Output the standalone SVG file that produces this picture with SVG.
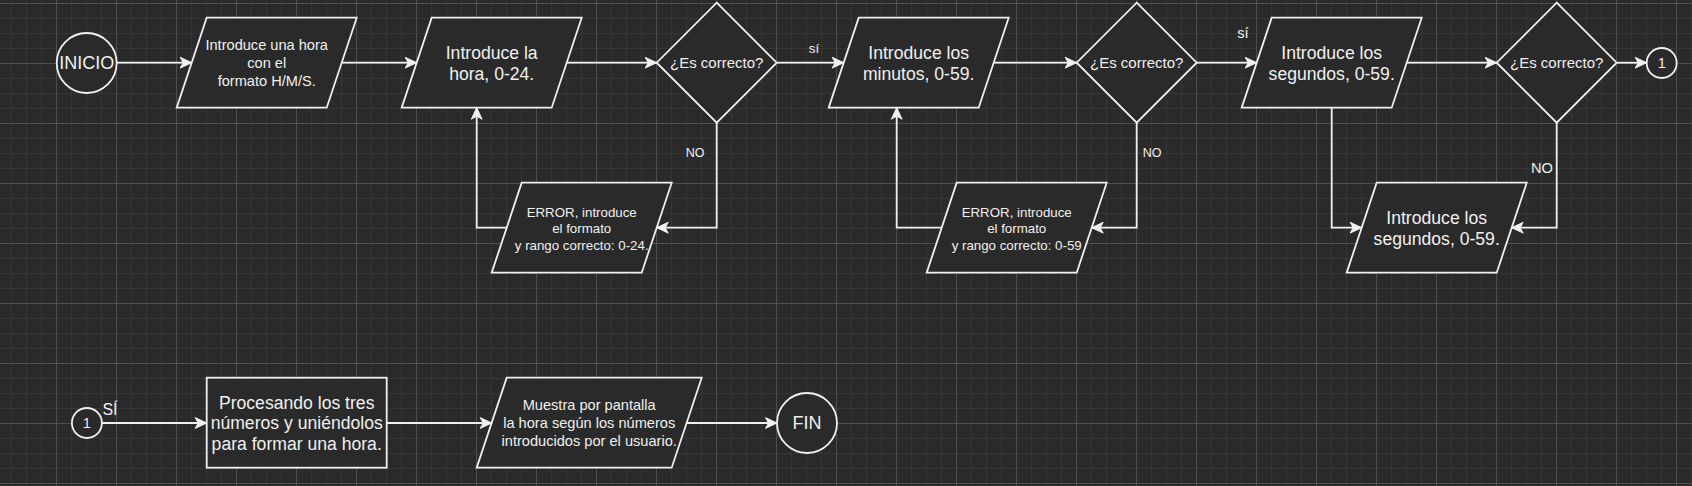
<svg xmlns="http://www.w3.org/2000/svg" width="1692" height="486" viewBox="0 0 1692 486">
<defs>
<pattern id="gMinor" patternUnits="userSpaceOnUse" x="11" y="3" width="15" height="15">
<path d="M0.5 0V15M0 0.5H15" stroke="#363636" stroke-width="1" fill="none"/>
</pattern>
<pattern id="gMajor" patternUnits="userSpaceOnUse" x="56" y="3" width="60" height="60">
<path d="M0.5 0V60M0 0.5H60" stroke="#4e4e4e" stroke-width="1" fill="none"/>
</pattern>
<marker id="arr" markerUnits="userSpaceOnUse" markerWidth="14" markerHeight="14" viewBox="-13 -7 14 14" refX="0" refY="0" orient="auto">
<path d="M0,0 L-11.5,-5.4 L-8.5,0 L-11.5,5.4 Z" fill="#f0f0f0" stroke="#f0f0f0" stroke-width="1"/>
</marker>
<style>
.n{fill:#2a2a2a;stroke:#f0f0f0;stroke-width:1.8}
.e{fill:none;stroke:#f0f0f0;stroke-width:1.8;marker-end:url(#arr)}
text{font-family:"Liberation Sans",Arial,sans-serif;fill:#f0f0f0;text-anchor:middle;dominant-baseline:central}
.s{font-size:14.6px}
.l{font-size:17.6px}
.x{font-size:13.3px}
.t{font-size:18px}
.d{font-size:15px}
.lb{font-size:12.5px}
</style>
</defs>
<rect x="0" y="0" width="1692" height="486" fill="#2a2a2a"/>
<rect x="0" y="0" width="1692" height="486" fill="url(#gMinor)"/>
<rect x="0" y="0" width="1692" height="486" fill="url(#gMajor)"/>

<g id="connectors">
<path class="e" d="M116.7,62.7 H191.7"/>
<path class="e" d="M341.7,62.7 H416.7"/>
<path class="e" d="M566.7,62.7 H656.7"/>
<path class="e" d="M776.7,62.7 H843.7"/>
<path class="e" d="M716.7,122.7 V227.7 H656.7"/>
<path class="e" d="M506.7,227.7 H476.7 V107.7"/>
<path class="e" d="M993.7,62.7 H1076.7"/>
<path class="e" d="M1136.7,122.7 V227.7 H1091.7"/>
<path class="e" d="M941.7,227.7 H896.7 V107.7"/>
<path class="e" d="M1196.7,62.7 H1256.7"/>
<path class="e" d="M1406.7,62.7 H1496.7"/>
<path class="e" d="M1616.7,62.7 H1646.7"/>
<path class="e" d="M1331.7,107.7 V227.7 H1361.7"/>
<path class="e" d="M1556.7,122.7 V227.7 H1511.7"/>
<path class="e" d="M101.9,423 H206.7"/>
<path class="e" d="M386.7,423 H491.7"/>
<path class="e" d="M686.7,423 H777"/>
<text class="x" x="814" y="48">sí</text>
<text class="lb" x="695" y="153">NO</text>
<text class="lb" x="1152" y="153">NO</text>
<text class="s" x="1243" y="33">sí</text>
<text class="s" x="1542" y="168">NO</text>
<text style="font-size:16px" x="110" y="409">SÍ</text>
</g>

<g id="inicio">
<circle class="n" cx="86.7" cy="63" r="30"/>
<text class="t" x="86.7" y="63">INICIO</text>
</g>
<g id="p1">
<polygon class="n" points="206.7,17.7 356.7,17.7 326.7,107.7 176.7,107.7"/>
<text class="s" x="266.7"><tspan x="266.7" y="45">Introduce una hora</tspan><tspan x="266.7" y="63">con el</tspan><tspan x="266.7" y="81">formato H/M/S.</tspan></text>
</g>
<g id="p2">
<polygon class="n" points="431.7,17.7 581.7,17.7 551.7,107.7 401.7,107.7"/>
<text class="l"><tspan x="491.7" y="53.3">Introduce la</tspan><tspan x="491.7" y="74">hora, 0-24.</tspan></text>
</g>
<g id="d1">
<polygon class="n" points="716.7,2.7 776.7,62.7 716.7,122.7 656.7,62.7"/>
<text class="d" x="716.7" y="62.7">¿Es correcto?</text>
</g>
<g id="err1">
<polygon class="n" points="521.7,182.7 671.7,182.7 641.7,272.7 491.7,272.7"/>
<text class="x"><tspan x="581.7" y="211.7">ERROR, introduce</tspan><tspan x="581.7" y="228.3">el formato</tspan><tspan x="581.7" y="244.5">y rango correcto: 0-24.</tspan></text>
</g>
<g id="p3">
<polygon class="n" points="858.7,17.7 1008.7,17.7 978.7,107.7 828.7,107.7"/>
<text class="l"><tspan x="918.7" y="53.3">Introduce los</tspan><tspan x="918.7" y="74">minutos, 0-59.</tspan></text>
</g>
<g id="d2">
<polygon class="n" points="1136.7,2.7 1196.7,62.7 1136.7,122.7 1076.7,62.7"/>
<text class="d" x="1136.7" y="62.7">¿Es correcto?</text>
</g>
<g id="err2">
<polygon class="n" points="956.7,182.7 1106.7,182.7 1076.7,272.7 926.7,272.7"/>
<text class="x"><tspan x="1016.7" y="211.7">ERROR, introduce</tspan><tspan x="1016.7" y="228.3">el formato</tspan><tspan x="1016.7" y="244.5">y rango correcto: 0-59</tspan></text>
</g>
<g id="p4">
<polygon class="n" points="1271.7,17.7 1421.7,17.7 1391.7,107.7 1241.7,107.7"/>
<text class="l"><tspan x="1331.7" y="53.3">Introduce los</tspan><tspan x="1331.7" y="74">segundos, 0-59.</tspan></text>
</g>
<g id="d3">
<polygon class="n" points="1556.7,2.7 1616.7,62.7 1556.7,122.7 1496.7,62.7"/>
<text class="d" x="1556.7" y="62.7">¿Es correcto?</text>
</g>
<g id="c1">
<circle class="n" cx="1661.7" cy="63" r="15"/>
<text class="s" x="1661.7" y="63">1</text>
</g>
<g id="p5">
<polygon class="n" points="1376.7,182.7 1526.7,182.7 1496.7,272.7 1346.7,272.7"/>
<text class="l"><tspan x="1436.7" y="218.3">Introduce los</tspan><tspan x="1436.7" y="239">segundos, 0-59.</tspan></text>
</g>
<g id="c1b">
<circle class="n" cx="86.9" cy="423" r="15"/>
<text class="s" x="86.9" y="423">1</text>
</g>
<g id="proc">
<rect class="n" x="206.7" y="377.7" width="180" height="90"/>
<text class="l"><tspan x="296.7" y="402.7">Procesando los tres</tspan><tspan x="296.7" y="423.3">números y uniéndolos</tspan><tspan x="296.7" y="444">para formar una hora.</tspan></text>
</g>
<g id="p6">
<polygon class="n" points="506.7,377.7 701.7,377.7 671.7,467.7 476.7,467.7"/>
<text class="s"><tspan x="589.2" y="405">Muestra por pantalla</tspan><tspan x="589.2" y="423">la hora según los números</tspan><tspan x="589.2" y="441">introducidos por el usuario.</tspan></text>
</g>
<g id="fin">
<circle class="n" cx="807" cy="423" r="30"/>
<text class="t" x="807" y="423">FIN</text>
</g>
</svg>
